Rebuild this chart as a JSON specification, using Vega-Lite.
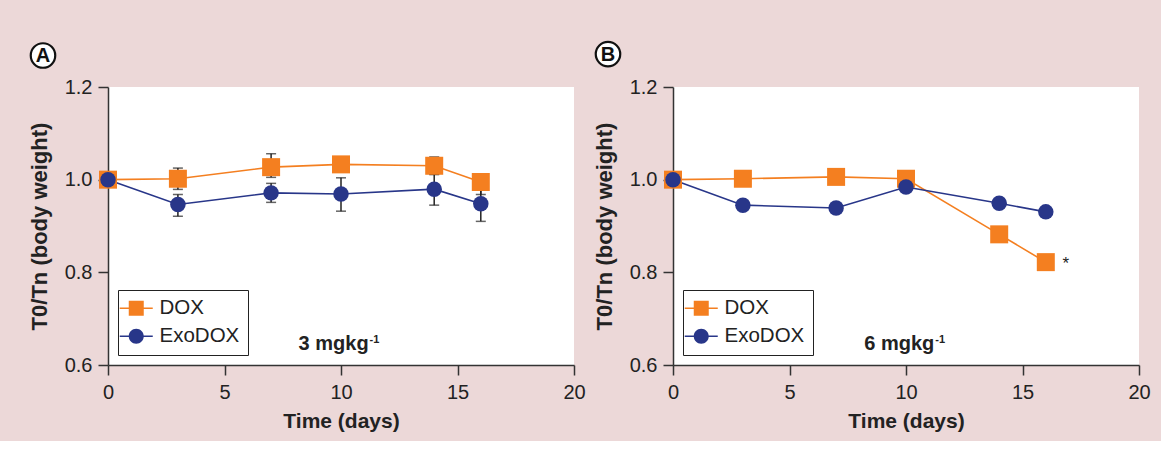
{
  "$schema": "https://vega.github.io/schema/vega-lite/v6.json",
  "background": "#ecd8d8",
  "padding": {"left": 26, "top": 37, "right": 10, "bottom": 10},
  "bounds": "flush",
  "spacing": 99,
  "resolve": {"scale": {"color": "independent"}, "legend": {"color": "independent"}},
  "config": {
    "view": {"stroke": null, "fill": "white"},
    "font": "Liberation Sans",
    "axis": {"domainColor": "#333", "domainWidth": 1.5, "tickColor": "#333", "tickWidth": 1.5, "tickSize": 10, "labelFontSize": 20, "labelColor": "#222", "labelFont": "Liberation Sans", "labelFlush": false, "titleFont": "Liberation Sans", "titleFontWeight": "bold", "titleColor": "#222", "grid": false},
    "axisX": {"labelPadding": 7, "titleFontSize": 21, "titlePadding": 8},
    "axisY": {"labelPadding": 6, "titleFontSize": 22, "titlePadding": 13},
    "legend": {"title": null, "orient": "none", "legendX": 10, "legendY": 203, "fillColor": "white", "strokeColor": "#222", "padding": 8, "labelFontSize": 20.5, "labelColor": "#222", "labelFont": "Liberation Sans", "symbolSize": 225, "symbolStrokeWidth": 0, "symbolOpacity": 1, "labelOffset": 13, "rowPadding": 7}
  },
  "datasets": {
    "series": [
      {"panel": "A", "series": "DOX", "day": 0, "value": 1.0, "lo": null, "hi": null},
      {"panel": "A", "series": "DOX", "day": 3, "value": 1.002, "lo": 0.979, "hi": 1.025},
      {"panel": "A", "series": "DOX", "day": 7, "value": 1.027, "lo": 1.005, "hi": 1.056},
      {"panel": "A", "series": "DOX", "day": 10, "value": 1.033, "lo": 1.021, "hi": 1.045},
      {"panel": "A", "series": "DOX", "day": 14, "value": 1.030, "lo": 1.011, "hi": 1.049},
      {"panel": "A", "series": "DOX", "day": 16, "value": 0.995, "lo": 0.968, "hi": 1.012},
      {"panel": "A", "series": "ExoDOX", "day": 0, "value": 1.0, "lo": null, "hi": null},
      {"panel": "A", "series": "ExoDOX", "day": 3, "value": 0.9465, "lo": 0.921, "hi": 0.968},
      {"panel": "A", "series": "ExoDOX", "day": 7, "value": 0.9715, "lo": 0.951, "hi": 0.992},
      {"panel": "A", "series": "ExoDOX", "day": 10, "value": 0.969, "lo": 0.932, "hi": 1.004},
      {"panel": "A", "series": "ExoDOX", "day": 14, "value": 0.9795, "lo": 0.945, "hi": 1.012},
      {"panel": "A", "series": "ExoDOX", "day": 16, "value": 0.948, "lo": 0.910, "hi": 0.984},
      {"panel": "B", "series": "DOX", "day": 0, "value": 1.0, "lo": null, "hi": null},
      {"panel": "B", "series": "DOX", "day": 3, "value": 1.002, "lo": null, "hi": null},
      {"panel": "B", "series": "DOX", "day": 7, "value": 1.006, "lo": null, "hi": null},
      {"panel": "B", "series": "DOX", "day": 10, "value": 1.002, "lo": null, "hi": null},
      {"panel": "B", "series": "DOX", "day": 14, "value": 0.882, "lo": null, "hi": null},
      {"panel": "B", "series": "DOX", "day": 16, "value": 0.822, "lo": null, "hi": null},
      {"panel": "B", "series": "ExoDOX", "day": 0, "value": 1.0, "lo": null, "hi": null},
      {"panel": "B", "series": "ExoDOX", "day": 3, "value": 0.945, "lo": null, "hi": null},
      {"panel": "B", "series": "ExoDOX", "day": 7, "value": 0.939, "lo": null, "hi": null},
      {"panel": "B", "series": "ExoDOX", "day": 10, "value": 0.984, "lo": null, "hi": null},
      {"panel": "B", "series": "ExoDOX", "day": 14, "value": 0.949, "lo": null, "hi": null},
      {"panel": "B", "series": "ExoDOX", "day": 16, "value": 0.9305, "lo": null, "hi": null}
    ],
    "notes": [
      {"panel": "A", "letter": "A", "lx": -2.79, "ly": 1.268, "dose": "3 mgkg", "dx": 8.18, "dy": 0.6324},
      {"panel": "B", "letter": "B", "lx": -2.79, "ly": 1.271, "dose": "6 mgkg", "dx": 8.21, "dy": 0.6324}
    ],
    "stars": [
      {"panel": "B", "day": 16, "value": 0.822, "label": "*"}
    ]
  },
  "hconcat": [
    {
      "width": 466,
      "height": 278,
      "layer": [
        {
          "data": {"name": "series"},
          "transform": [{"filter": "datum.panel === 'A' && datum.lo != null"}],
          "mark": {"type": "errorbar", "ticks": {"size": 10}, "color": "#222", "thickness": 1.5},
          "encoding": {
            "x": {"field": "day", "type": "quantitative", "scale": {"domain": [0, 20], "nice": false}, "axis": {"title": "Time (days)", "values": [0, 5, 10, 15, 20]}},
            "y": {"field": "lo", "type": "quantitative", "scale": {"domain": [0.6, 1.2], "nice": false, "zero": false}, "axis": {"title": "T0/Tn (body weight)", "values": [0.6, 0.8, 1.0, 1.2], "format": ".1f"}},
            "y2": {"field": "hi"}
          }
        },
        {
          "data": {"name": "series"},
          "transform": [{"filter": "datum.panel === 'A'"}],
          "mark": {"type": "line", "strokeWidth": 1.6},
          "encoding": {
            "x": {"field": "day", "type": "quantitative", "title": "Time (days)"},
            "y": {"field": "value", "type": "quantitative", "title": "T0/Tn (body weight)"},
            "detail": {"field": "series"},
            "color": {"condition": {"test": "datum.series === 'DOX'", "value": "#f47f20"}, "value": "#283689"}
          }
        },
        {
          "data": {"name": "series"},
          "transform": [{"filter": "datum.panel === 'A'"}],
          "mark": {"type": "point", "filled": true, "opacity": 1, "strokeWidth": 0},
          "encoding": {
            "x": {"field": "day", "type": "quantitative", "title": "Time (days)"},
            "y": {"field": "value", "type": "quantitative", "title": "T0/Tn (body weight)"},
            "shape": {"condition": {"test": "datum.series === 'DOX'", "value": "square"}, "value": "circle"},
            "size": {"condition": {"test": "datum.series === 'DOX'", "value": 324}, "value": 240},
            "color": {"field": "series", "type": "nominal", "scale": {"domain": ["DOX", "ExoDOX"], "range": ["#f47f20", "#283689"]},
              "legend": {
                "encode": {
                  "symbols": {"update": {"shape": {"signal": "datum.value === 'DOX' ? 'M-2.2,-0.1H-0.9V0.1H-2.2Z M0.9,-0.1H2.2V0.1H0.9Z M-1,-1H1V1H-1Z' : 'M-2.2,-0.1H-0.9V0.1H-2.2Z M0.9,-0.1H2.2V0.1H0.9Z M1,0A1,1 0 1,1 -1,0A1,1 0 1,1 1,0Z'"}}}
                }
              }
            }
          }
        },
        {
          "data": {"name": "notes"},
          "transform": [{"filter": "datum.panel === 'A'"}],
          "mark": {"type": "text", "align": "left", "baseline": "alphabetic", "fontSize": 20, "fontWeight": "bold", "color": "#222"},
          "encoding": {
            "x": {"field": "dx", "type": "quantitative"},
            "y": {"field": "dy", "type": "quantitative"},
            "text": {"field": "dose"}
          }
        },
        {
          "data": {"name": "notes"},
          "transform": [{"filter": "datum.panel === 'A'"}],
          "mark": {"type": "text", "align": "left", "baseline": "alphabetic", "fontSize": 11, "fontWeight": "bold", "color": "#222", "dx": 71, "dy": -7},
          "encoding": {
            "x": {"field": "dx", "type": "quantitative"},
            "y": {"field": "dy", "type": "quantitative"},
            "text": {"value": "-1"}
          }
        },
        {
          "data": {"name": "notes"},
          "transform": [{"filter": "datum.panel === 'A'"}],
          "mark": {"type": "point", "shape": "circle", "size": 600, "filled": false, "fill": "white", "stroke": "#111", "strokeWidth": 2.2, "opacity": 1},
          "encoding": {
            "x": {"field": "lx", "type": "quantitative"},
            "y": {"field": "ly", "type": "quantitative"}
          }
        },
        {
          "data": {"name": "notes"},
          "transform": [{"filter": "datum.panel === 'A'"}],
          "mark": {"type": "text", "align": "center", "baseline": "middle", "fontSize": 20, "fontWeight": "bold", "color": "#111", "dy": 1},
          "encoding": {
            "x": {"field": "lx", "type": "quantitative"},
            "y": {"field": "ly", "type": "quantitative"},
            "text": {"field": "letter"}
          }
        }
      ]
    },
    {
      "width": 466,
      "height": 278,
      "layer": [
        {
          "data": {"name": "series"},
          "transform": [{"filter": "datum.panel === 'B'"}],
          "mark": {"type": "line", "strokeWidth": 1.6},
          "encoding": {
            "x": {"field": "day", "type": "quantitative", "scale": {"domain": [0, 20], "nice": false}, "axis": {"title": "Time (days)", "values": [0, 5, 10, 15, 20]}},
            "y": {"field": "value", "type": "quantitative", "scale": {"domain": [0.6, 1.2], "nice": false, "zero": false}, "axis": {"title": "T0/Tn (body weight)", "values": [0.6, 0.8, 1.0, 1.2], "format": ".1f"}},
            "detail": {"field": "series"},
            "color": {"condition": {"test": "datum.series === 'DOX'", "value": "#f47f20"}, "value": "#283689"}
          }
        },
        {
          "data": {"name": "series"},
          "transform": [{"filter": "datum.panel === 'B'"}],
          "mark": {"type": "point", "filled": true, "opacity": 1, "strokeWidth": 0},
          "encoding": {
            "x": {"field": "day", "type": "quantitative", "title": "Time (days)"},
            "y": {"field": "value", "type": "quantitative", "title": "T0/Tn (body weight)"},
            "shape": {"condition": {"test": "datum.series === 'DOX'", "value": "square"}, "value": "circle"},
            "size": {"condition": {"test": "datum.series === 'DOX'", "value": 324}, "value": 240},
            "color": {"field": "series", "type": "nominal", "scale": {"domain": ["DOX", "ExoDOX"], "range": ["#f47f20", "#283689"]},
              "legend": {
                "encode": {
                  "symbols": {"update": {"shape": {"signal": "datum.value === 'DOX' ? 'M-2.2,-0.1H-0.9V0.1H-2.2Z M0.9,-0.1H2.2V0.1H0.9Z M-1,-1H1V1H-1Z' : 'M-2.2,-0.1H-0.9V0.1H-2.2Z M0.9,-0.1H2.2V0.1H0.9Z M1,0A1,1 0 1,1 -1,0A1,1 0 1,1 1,0Z'"}}}
                }
              }
            }
          }
        },
        {
          "data": {"name": "stars"},
          "mark": {"type": "text", "align": "center", "baseline": "middle", "fontSize": 17, "color": "#222", "dx": 20, "dy": 2},
          "encoding": {
            "x": {"field": "day", "type": "quantitative"},
            "y": {"field": "value", "type": "quantitative"},
            "text": {"field": "label"}
          }
        },
        {
          "data": {"name": "notes"},
          "transform": [{"filter": "datum.panel === 'B'"}],
          "mark": {"type": "text", "align": "left", "baseline": "alphabetic", "fontSize": 20, "fontWeight": "bold", "color": "#222"},
          "encoding": {
            "x": {"field": "dx", "type": "quantitative"},
            "y": {"field": "dy", "type": "quantitative"},
            "text": {"field": "dose"}
          }
        },
        {
          "data": {"name": "notes"},
          "transform": [{"filter": "datum.panel === 'B'"}],
          "mark": {"type": "text", "align": "left", "baseline": "alphabetic", "fontSize": 11, "fontWeight": "bold", "color": "#222", "dx": 71, "dy": -7},
          "encoding": {
            "x": {"field": "dx", "type": "quantitative"},
            "y": {"field": "dy", "type": "quantitative"},
            "text": {"value": "-1"}
          }
        },
        {
          "data": {"name": "notes"},
          "transform": [{"filter": "datum.panel === 'B'"}],
          "mark": {"type": "point", "shape": "circle", "size": 600, "filled": false, "fill": "white", "stroke": "#111", "strokeWidth": 2.2, "opacity": 1},
          "encoding": {
            "x": {"field": "lx", "type": "quantitative"},
            "y": {"field": "ly", "type": "quantitative"}
          }
        },
        {
          "data": {"name": "notes"},
          "transform": [{"filter": "datum.panel === 'B'"}],
          "mark": {"type": "text", "align": "center", "baseline": "middle", "fontSize": 20, "fontWeight": "bold", "color": "#111", "dy": 1},
          "encoding": {
            "x": {"field": "lx", "type": "quantitative"},
            "y": {"field": "ly", "type": "quantitative"},
            "text": {"field": "letter"}
          }
        }
      ]
    }
  ]
}
